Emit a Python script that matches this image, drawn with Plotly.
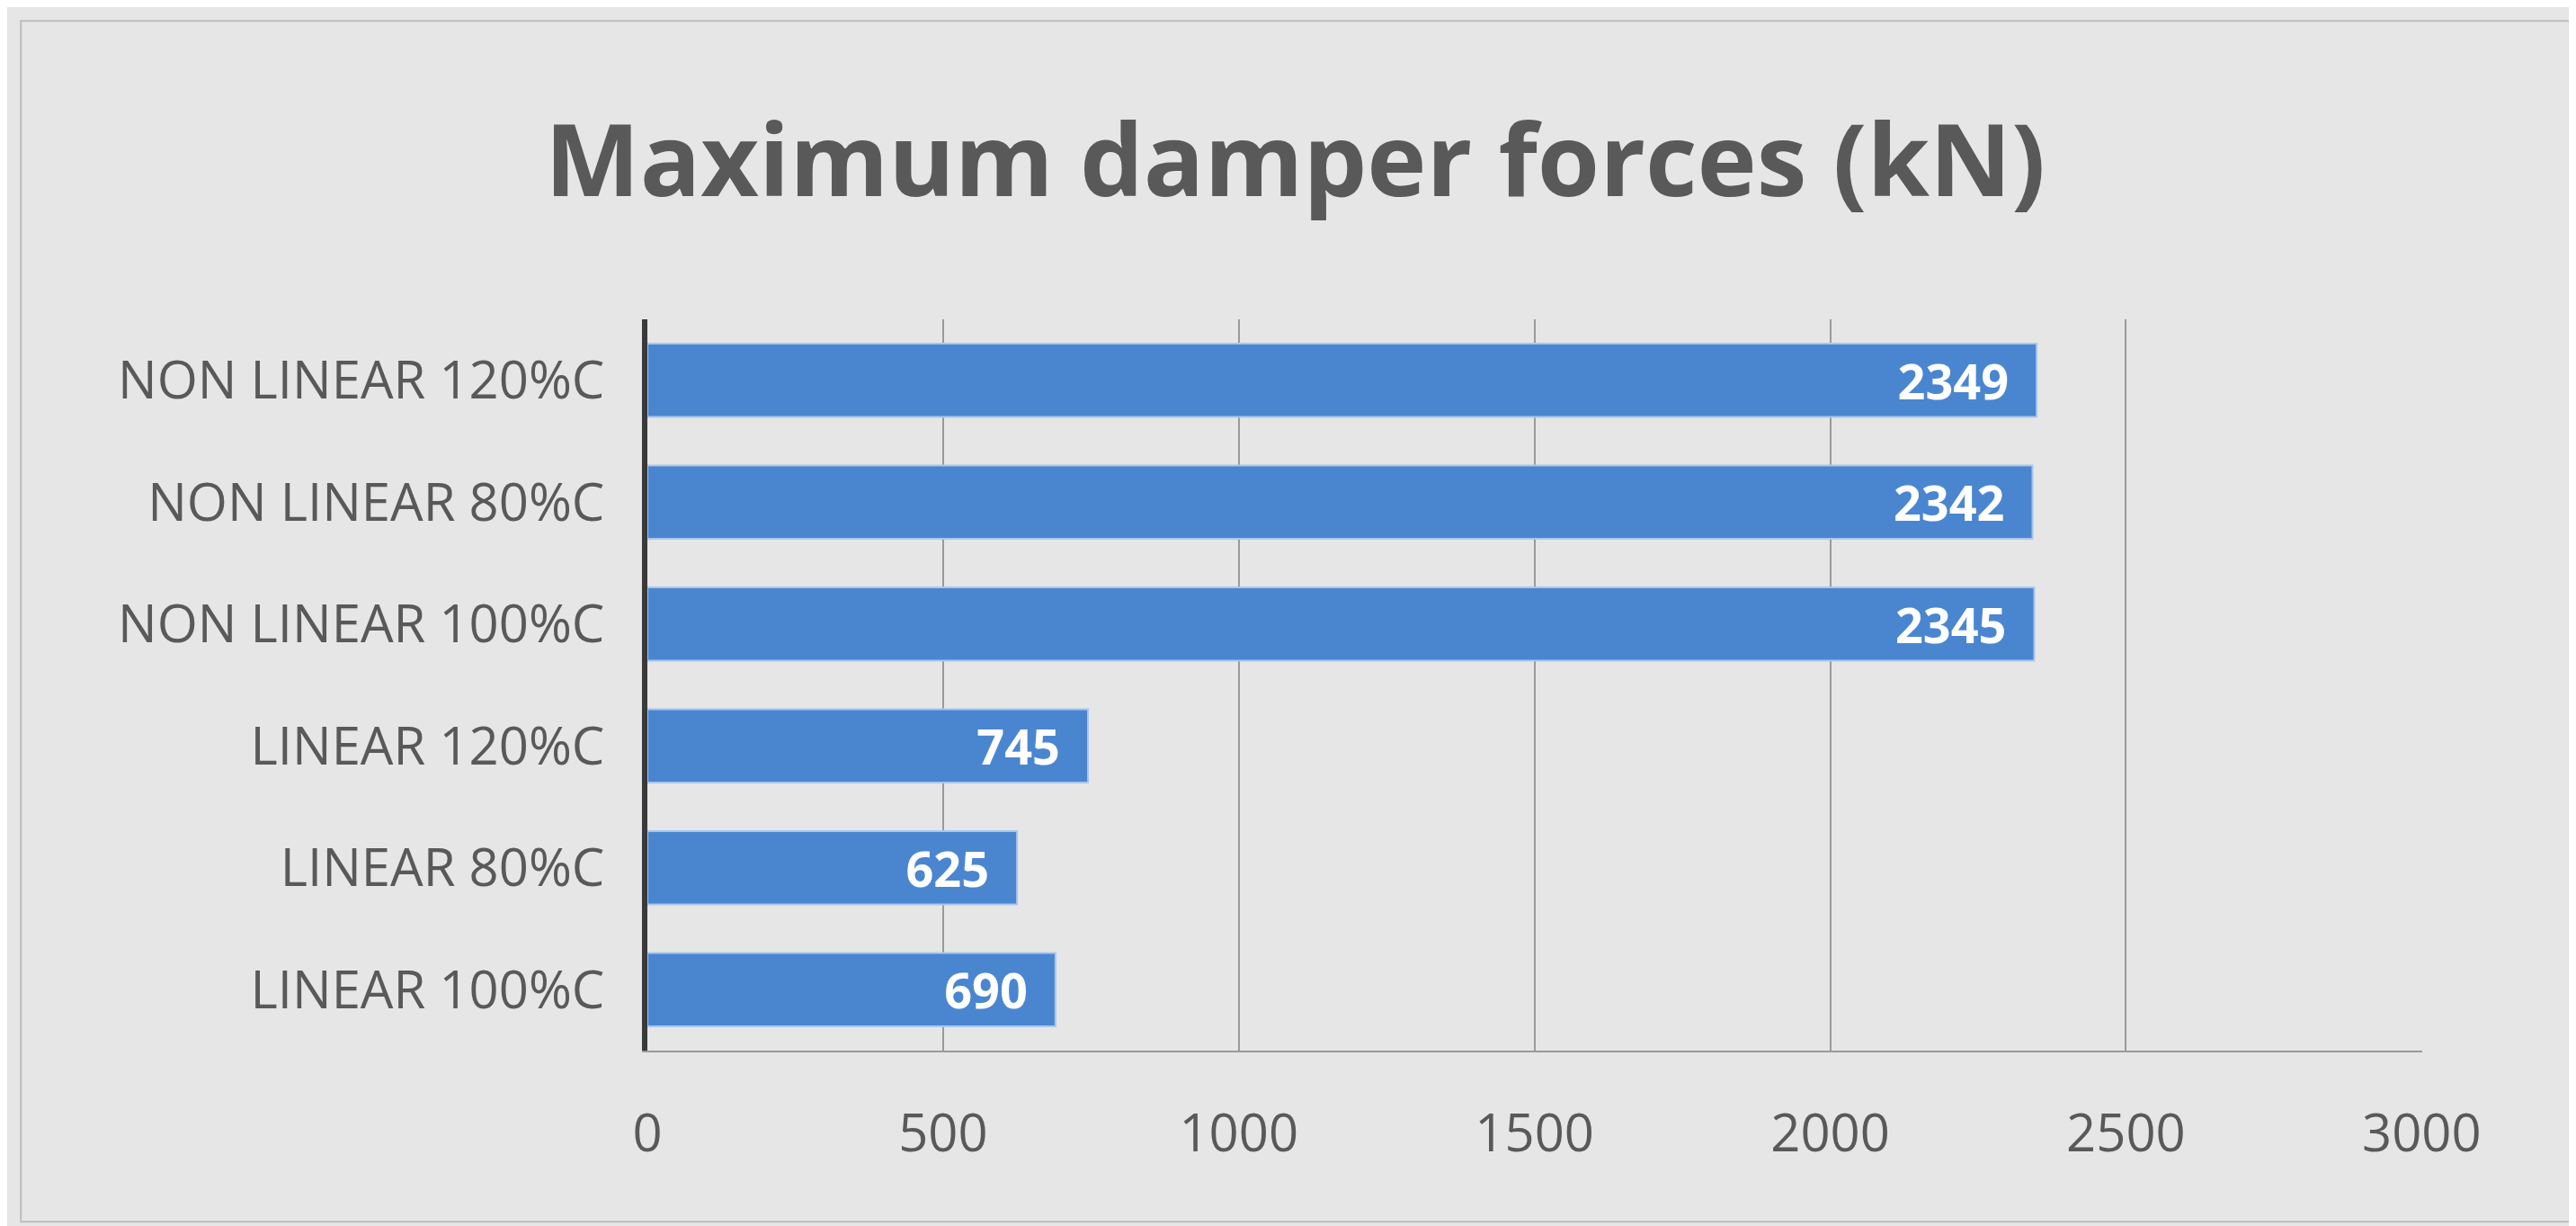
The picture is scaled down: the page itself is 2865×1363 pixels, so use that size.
import plotly.graph_objects as go

# categories bottom to top as drawn
cases = ['LINEAR 100%C', 'LINEAR 80%C', 'LINEAR 120%C',
         'NON LINEAR 100%C', 'NON LINEAR 80%C', 'NON LINEAR 120%C']
forces = [690, 625, 745, 2345, 2342, 2349]
x_ticks = [0, 500, 1000, 1500, 2000, 2500, 3000]

fig = go.Figure()
fig.add_trace(go.Bar(
    y=cases, x=forces, orientation='h', width=0.6,
    marker=dict(color='#4a86d0', line=dict(color='#a9c6ec', width=2)),
    text=[str(v) + '  ' for v in forces], textposition='inside', insidetextanchor='end',
    textfont=dict(color='white', size=54, family='Open Sans'),
    texttemplate='<b>%{text}</b>', cliponaxis=False,
))

fig.update_layout(
    width=2865, height=1363,
    margin=dict(l=712, r=179, t=347, b=203),
    paper_bgcolor='#e6e6e6', plot_bgcolor='rgba(0,0,0,0)',
    title=dict(text='<b>Maximum damper forces (kN)</b>', x=0.5, xanchor='center',
               y=0.875, yanchor='middle',
               font=dict(size=112, color='#595959', family='Open Sans')),
    font=dict(family='Open Sans', color='#595959'),
    showlegend=False,
    xaxis=dict(range=[0, 3001], tickvals=x_ticks, showgrid=True, gridcolor='#9a9a9a',
               gridwidth=2, zeroline=False, tickfont=dict(size=58, color='#595959'),
               showline=True, linecolor='#9a9a9a', linewidth=2,
               ticks='outside', ticklen=40, tickcolor='rgba(0,0,0,0)'),
    yaxis=dict(showline=True, linecolor='#3a3a3a', linewidth=6,
               tickfont=dict(size=58, color='#595959'), ticks='', ticklabelstandoff=30),
    shapes=[dict(type='rect', xref='paper', yref='paper', x0=-0.353, x1=1.083,
                 y0=-0.234, y1=1.408, line=dict(color='#bdbdbd', width=2), layer='below')],
)

fig.write_html("out.html")
